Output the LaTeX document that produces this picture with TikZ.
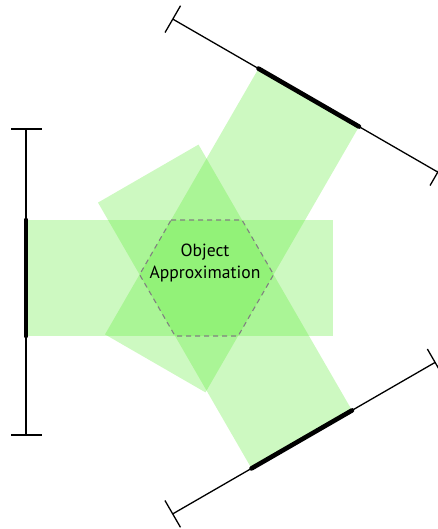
\documentclass[tikz,border=0pt]{standalone}
\usepackage{fontspec}
\setmainfont{PT Sans}
\usetikzlibrary{calc}
\begin{document}
\begin{tikzpicture}[x=1pt,y=-1pt,
  band/.style={fill={rgb,255:red,90;green,235;blue,50},fill opacity=0.3,draw=none},
  detline/.style={line width=1.3pt,black},
  detthick/.style={line width=4.6pt,black,line cap=round},
  hexline/.style={draw=black!50,line width=1.1pt,dash pattern=on 5pt off 4pt},
  label/.style={font=\fontsize{17.6}{22.5}\selectfont,align=center,text=black}]
\useasboundingbox (0,0) rectangle (438,529);
% bands
\fill[band] (26,220) -- (333,220) -- (333,336) -- (26,336) -- cycle;
\fill[band] (258.5,68.6) -- (359,126.6) -- (205.5,392.4) -- (105,334.4) -- cycle;
\fill[band] (251.5,468.4) -- (352,410.4) -- (198.5,144.6) -- (98,202.6) -- cycle;
% hexagon (intersection of the bands)
\draw[hexline] (171.1,220) -- (242,220) -- (273.6,274.6) -- (238.1,336) -- (175.1,336) -- (139.6,274.6) -- cycle;
\node[label] (obj) at (205,263) {Object\\Approximation};
% left detector
\coordinate (La) at (26,129);
\coordinate (Lb) at (26,435);
\draw[detline] (La) -- (Lb);
\draw[detline] (11,129) -- (42,129);
\draw[detline] (11,435) -- (42,435);
\draw[detthick] (26,220) -- (26,336);
% top-right detector
\coordinate (Ta) at (172.8,19.1);
\coordinate (Tb) at (437.8,172.1);
\draw[detline] (Ta) -- (Tb);
\draw[detline] ($(Ta)+(7.75,-13.4)$) -- ($(Ta)+(-7.75,13.4)$);
\draw[detline] ($(Tb)+(7.75,-13.4)$) -- ($(Tb)+(-7.75,13.4)$);
\draw[detthick] (258.5,68.6) -- (359,126.6);
% bottom-right detector
\coordinate (Ba) at (172.7,513.9);
\coordinate (Bb) at (435.1,362.4);
\draw[detline] (Ba) -- (Bb);
\draw[detline] ($(Ba)+(7.75,13.4)$) -- ($(Ba)+(-7.75,-13.4)$);
\draw[detline] ($(Bb)+(7.75,13.4)$) -- ($(Bb)+(-7.75,-13.4)$);
\draw[detthick] (251.5,468.4) -- (352,410.4);
\end{tikzpicture}
\end{document}
